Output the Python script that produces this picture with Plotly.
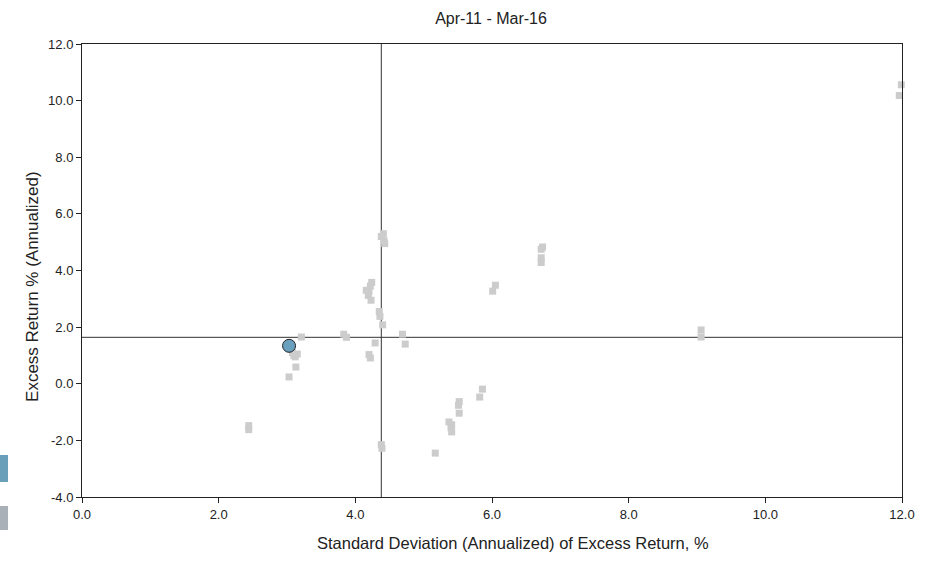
import plotly.graph_objects as go

# Peer universe (gray squares): std dev (x) and excess return (y)
peer_sd = [3.21, 3.08, 3.15, 3.12, 3.10, 3.13, 3.03, 2.44, 2.44,
           4.38, 4.41, 4.42, 4.43,
           4.24, 4.22, 4.16, 4.20, 4.19, 4.23,
           4.35, 4.36, 4.40,
           3.83, 3.87, 4.29, 4.20, 4.22, 4.69, 4.73,
           4.38, 4.39,
           6.74, 6.72, 6.72, 6.72, 6.05, 6.01,
           5.86, 5.82, 5.52, 5.51, 5.52,
           5.37, 5.41, 5.40, 5.41, 5.17,
           9.06, 9.06, 11.99, 11.96]
peer_ret = [1.65, 1.10, 1.05, 0.95, 1.00, 0.59, 0.24, -1.48, -1.62,
            5.20, 5.30, 5.05, 4.95,
            3.58, 3.45, 3.30, 3.25, 3.12, 2.95,
            2.55, 2.38, 2.08,
            1.75, 1.64, 1.44, 1.03, 0.91, 1.75, 1.40,
            -2.15, -2.28,
            4.83, 4.75, 4.45, 4.28, 3.48, 3.27,
            -0.19, -0.47, -0.63, -0.76, -1.04,
            -1.35, -1.45, -1.55, -1.70, -2.45,
            1.90, 1.65, 10.56, 10.18]

# Highlighted fund (blue circle)
fund_sd = [3.03]
fund_ret = [1.34]

# Reference lines (median risk / median return)
median_sd = 4.38
median_ret = 1.64

title_text = "Apr-11 - Mar-16"
x_title = "Standard Deviation (Annualized) of Excess Return, %"
y_title = "Excess Return % (Annualized)"
x_ticks = [0, 2, 4, 6, 8, 10, 12]
y_ticks = [-4, -2, 0, 2, 4, 6, 8, 10, 12]

font_family = "Liberation Sans, Arial, sans-serif"

fig = go.Figure()

fig.add_trace(go.Scatter(
    x=peer_sd, y=peer_ret, mode="markers",
    marker=dict(symbol="square", size=7, color="#cccccc", line=dict(width=0)),
    cliponaxis=False, showlegend=False, hoverinfo="x+y"))

fig.add_trace(go.Scatter(
    x=fund_sd, y=fund_ret, mode="markers",
    marker=dict(symbol="circle", size=13, color="#6a9fbd",
                line=dict(width=1, color="#222222")),
    cliponaxis=False, showlegend=False, hoverinfo="x+y"))

shapes = [
    dict(type="line", xref="x", yref="paper", x0=median_sd, x1=median_sd,
         y0=0, y1=1, line=dict(color="#333333", width=1), layer="below"),
    dict(type="line", xref="paper", yref="y", x0=0, x1=1,
         y0=median_ret, y1=median_ret, line=dict(color="#333333", width=1), layer="below"),
    # clipped legend swatches at the left edge
    dict(type="rect", xref="paper", yref="paper", x0=-0.1, x1=-0.0902,
         y0=0.0331, y1=0.0927, fillcolor="#6a9fba", line=dict(width=0)),
    dict(type="rect", xref="paper", yref="paper", x0=-0.1, x1=-0.0902,
         y0=-0.0728, y1=-0.0199, fillcolor="#aab0b8", line=dict(width=0)),
]

annotations = [
    dict(text=x_title, xref="paper", yref="paper", x=0.5256, y=-0.1015,
         xanchor="center", yanchor="middle", showarrow=False,
         font=dict(size=16.5, family=font_family, color="#222222")),
    dict(text=y_title, xref="paper", yref="paper", x=-0.0598, y=0.4658,
         xanchor="center", yanchor="middle", showarrow=False, textangle=-90,
         font=dict(size=17, family=font_family, color="#222222")),
]

fig.update_layout(
    width=938, height=561,
    margin=dict(l=82, r=36, t=44, b=64),
    paper_bgcolor="white", plot_bgcolor="white",
    font=dict(family=font_family, size=12, color="#222222"),
    title=dict(text=title_text, x=491 / 938, xanchor="center",
               y=1 - 18 / 561, yanchor="middle",
               font=dict(size=16, family=font_family, color="#222222")),
    shapes=shapes,
    annotations=annotations,
    showlegend=False,
)

fig.update_xaxes(
    range=[0, 12], tickvals=x_ticks, ticktext=[f"{v:.1f}" for v in x_ticks],
    showgrid=False, zeroline=False, showline=True, linecolor="#222222", linewidth=1,
    mirror=True, ticks="outside", ticklen=5, tickcolor="#222222",
    tickfont=dict(size=13),
)
fig.update_yaxes(
    range=[-4, 12], tickvals=y_ticks, ticktext=[f"{v:.1f}" for v in y_ticks],
    showgrid=False, zeroline=False, showline=True, linecolor="#222222", linewidth=1,
    mirror=True, ticks="outside", ticklen=5, tickcolor="#222222",
    tickfont=dict(size=13),
)

fig.write_html("out.html", config={"displayModeBar": False},
               post_script="document.body.style.margin='0';")
